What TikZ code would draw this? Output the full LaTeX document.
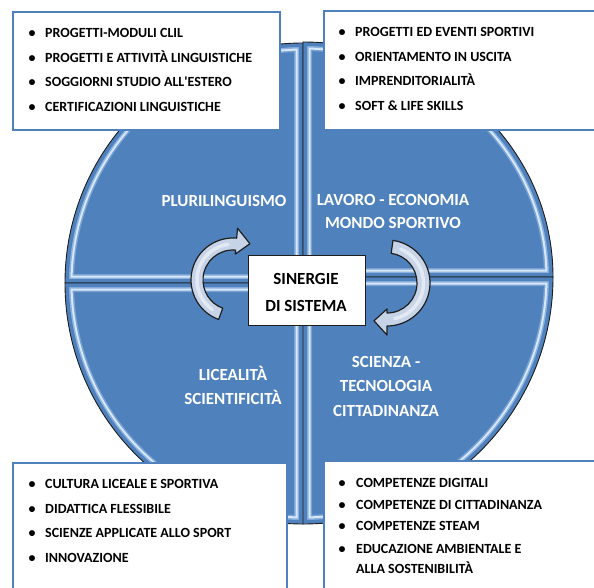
\documentclass[tikz,border=0pt]{standalone}
\usepackage{fontspec}
\setmainfont{Carlito}
\usetikzlibrary{calc}
\definecolor{qblue}{HTML}{4F81BD}
\definecolor{qlight}{HTML}{D6E8FA}
\definecolor{qmid}{HTML}{8DB2DF}
\definecolor{arrowfill}{HTML}{C7D3E7}
\definecolor{edgecol}{HTML}{1E1E1E}
\begin{document}
\begin{tikzpicture}[x=1pt,y=-1pt,
  listbox/.style={draw=qblue, line width=2pt, fill=white, inner sep=0pt, anchor=north west},
  centerbox/.style={draw=edgecol, line width=0.8pt, fill=white, inner sep=0pt, minimum width=117pt, minimum height=70pt},
  itemtxt/.style={anchor=base west, inner sep=0pt, font=\fontsize{14}{17}\selectfont\bfseries, text=black},
  bul/.style={anchor=base, inner sep=0pt, font=\fontsize{14}{17}\selectfont\bfseries, text=black},
  qlabel/.style={anchor=base, inner sep=0pt, font=\fontsize{17}{20}\selectfont\bfseries, text=white},
  ctext/.style={anchor=base, inner sep=0pt, font=\fontsize{17}{20}\selectfont\bfseries, text=black},
  arrowstyle/.style={draw=edgecol, line width=1.2pt, fill=arrowfill, line join=round},
  gloss/.style={white, opacity=0.5, line width=3.5pt, line cap=round}
]
\useasboundingbox (0,0) rectangle (594,588);
\clip (0,0) rectangle (594,588);

% quadrants of the circle
\foreach \cy/\sa/\ea/\rx/\ry in {283/180/270/238/240, 277/270/360/250/235, 277/0/90/250/247, 283/90/180/238/241}{
  \fill[qblue] (303,\cy) -- ++({\rx*cos(\sa)},{\ry*sin(\sa)}) arc[start angle=\sa,end angle=\ea,x radius=\rx,y radius=\ry] -- cycle;
  \begin{scope}
    \clip (303,\cy) -- ++({\rx*cos(\sa)},{\ry*sin(\sa)}) arc[start angle=\sa,end angle=\ea,x radius=\rx,y radius=\ry] -- cycle;
    \draw[qmid, opacity=0.7, line width=18pt] (303,\cy) -- ++({\rx*cos(\sa)},{\ry*sin(\sa)}) arc[start angle=\sa,end angle=\ea,x radius=\rx,y radius=\ry] -- cycle;
    \draw[qlight, line width=15pt] (303,\cy) -- ++({\rx*cos(\sa)},{\ry*sin(\sa)}) arc[start angle=\sa,end angle=\ea,x radius=\rx,y radius=\ry] -- cycle;
    \draw[qmid, line width=11pt] (303,\cy) -- ++({\rx*cos(\sa)},{\ry*sin(\sa)}) arc[start angle=\sa,end angle=\ea,x radius=\rx,y radius=\ry] -- cycle;
    \draw[qblue, line width=8pt] (303,\cy) -- ++({\rx*cos(\sa)},{\ry*sin(\sa)}) arc[start angle=\sa,end angle=\ea,x radius=\rx,y radius=\ry] -- cycle;
  \end{scope}
  \draw[edgecol, line width=0.9pt, line join=round] (303,\cy) -- ++({\rx*cos(\sa)},{\ry*sin(\sa)}) arc[start angle=\sa,end angle=\ea,x radius=\rx,y radius=\ry] -- cycle;
}

% quadrant labels
\node[qlabel] (pluri) at (224,207) {PLURILINGUISMO};
\node[qlabel] (lav1) at (393,206) {LAVORO - ECONOMIA};
\node[qlabel] (lav2) at (393,229) {MONDO SPORTIVO};
\node[qlabel] (lic1) at (233,380) {LICEALITÀ};
\node[qlabel] (lic2) at (233,404) {SCIENTIFICITÀ};
\node[qlabel] (sci1) at (386,367) {SCIENZA -};
\node[qlabel] (sci2) at (386,391) {TECNOLOGIA};
\node[qlabel] (sci3) at (386,416) {CITTADINANZA};

% centre box
\node[centerbox] (sinbox) at (306.5,290) {};
\node[ctext] (sin1) at (306,284) {SINERGIE};
\node[ctext] (sin2) at (306,311) {DI SISTEMA};

% circular arrows
\coordinate (CL) at (233,280);
\coordinate (CR) at (387,283);
\draw[arrowstyle] ($(CL)+(110:42)$) arc[start angle=110,end angle=275,radius=42]
  -- ($(CL)+(275:52)$) -- ($(CL)+(295:40)$) -- ($(CL)+(275:26)$) -- ($(CL)+(275:30)$)
  arc[start angle=275,end angle=110,radius=30] -- cycle;
\draw[gloss] ($(CL)+(125:36)$) arc[start angle=125,end angle=262,radius=36];
\draw[arrowstyle] ($(CR)+(-82:43)$) arc[start angle=-82,end angle=90,radius=43]
  -- ($(CR)+(90:52)$) -- ($(CR)+(109:40)$) -- ($(CR)+(90:26)$) -- ($(CR)+(90:30)$)
  arc[start angle=90,end angle=-82,radius=30] -- cycle;
\draw[gloss] ($(CR)+(-68:36.5)$) arc[start angle=-68,end angle=78,radius=36.5];

% list boxes
\node[listbox, minimum width=267pt, minimum height=118pt] (boxTL) at (12,11) {};
\node[listbox, minimum width=277pt, minimum height=119pt] (boxTR) at (323,10) {};
\node[listbox, minimum width=274pt, minimum height=138pt] (boxBL) at (12,462) {};
\node[listbox, minimum width=277pt, minimum height=140pt] (boxBR) at (323,460) {};

% top left list
\node[bul] (tlb1) at (32,38) {•};  \node[itemtxt] (tl1) at (45,38) {PROGETTI-MODULI CLIL};
\node[bul] (tlb2) at (32,63) {•};  \node[itemtxt] (tl2) at (45,63) {PROGETTI E ATTIVITÀ LINGUISTICHE};
\node[bul] (tlb3) at (32,87) {•};  \node[itemtxt] (tl3) at (45,87) {SOGGIORNI STUDIO ALL\textquotesingle ESTERO};
\node[bul] (tlb4) at (32,112) {•}; \node[itemtxt] (tl4) at (45,112) {CERTIFICAZIONI LINGUISTICHE};

% top right list
\node[bul] (trb1) at (342,37) {•};  \node[itemtxt] (tr1) at (355,37) {PROGETTI ED EVENTI SPORTIVI};
\node[bul] (trb2) at (342,62) {•};  \node[itemtxt] (tr2) at (355,62) {ORIENTAMENTO IN USCITA};
\node[bul] (trb3) at (342,86) {•};  \node[itemtxt] (tr3) at (355,86) {IMPRENDITORIALITÀ};
\node[bul] (trb4) at (342,111) {•}; \node[itemtxt] (tr4) at (355,111) {SOFT \& LIFE SKILLS};

% bottom left list
\node[bul] (blb1) at (32,488) {•}; \node[itemtxt] (bl1) at (45,488) {CULTURA LICEALE E SPORTIVA};
\node[bul] (blb2) at (32,513) {•}; \node[itemtxt] (bl2) at (45,513) {DIDATTICA FLESSIBILE};
\node[bul] (blb3) at (32,537) {•}; \node[itemtxt] (bl3) at (45,537) {SCIENZE APPLICATE ALLO SPORT};
\node[bul] (blb4) at (32,562) {•}; \node[itemtxt] (bl4) at (45,562) {INNOVAZIONE};

% bottom right list
\node[bul] (brb1) at (342,487) {•}; \node[itemtxt] (br1) at (356,487) {COMPETENZE DIGITALI};
\node[bul] (brb2) at (342,509) {•}; \node[itemtxt] (br2) at (356,509) {COMPETENZE DI CITTADINANZA};
\node[bul] (brb3) at (342,530) {•}; \node[itemtxt] (br3) at (356,530) {COMPETENZE STEAM};
\node[bul] (brb4) at (342,553) {•}; \node[itemtxt] (br4) at (356,553) {EDUCAZIONE AMBIENTALE E};
\node[itemtxt] (br5) at (356,573) {ALLA SOSTENIBILITÀ};
\end{tikzpicture}
\end{document}
